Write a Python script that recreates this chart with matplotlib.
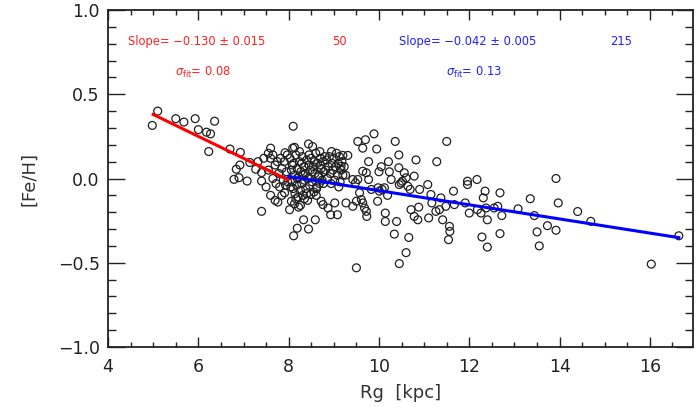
import matplotlib
matplotlib.use("Agg")
import matplotlib.pyplot as plt
import numpy as np
from matplotlib.ticker import MultipleLocator

# Inner sample (Rg < 8 kpc), 50 stars
rg_inner = [4.98, 5.10, 5.50, 5.68, 5.93, 6.36, 6.00, 6.18, 6.27, 6.23, 6.70, 6.93, 6.84, 6.92,
            6.79, 6.90, 7.08, 7.14, 7.32, 7.27, 7.40, 7.40, 7.40, 7.60, 7.76, 7.91, 7.92,
            7.55, 7.60, 7.65, 7.70, 7.72, 7.75, 7.78, 7.80, 7.82, 7.85, 7.88, 7.90, 7.93,
            7.95, 7.97, 7.98, 7.60, 7.70, 7.50, 7.65, 7.45, 7.55, 7.85]
feh_inner = [0.315, 0.40, 0.355, 0.335, 0.355, 0.34, 0.29, 0.275, 0.265, 0.16, 0.175, 0.155, 0.055, 0.08,
             -0.005, 0.005, -0.015, 0.095, 0.10, 0.055, 0.035, -0.015, -0.195, 0.18, -0.14, -0.085, 0.153,
             0.05, 0.12, 0.0, 0.08, -0.03, 0.10, 0.03, -0.05, 0.12, 0.06, -0.01, 0.10, -0.04,
             0.04, 0.14, -0.02, -0.10, -0.13, -0.05, 0.14, 0.12, 0.15, -0.10]

# Outer sample (Rg > 8 kpc), 215 stars
rg_outer = [8.02, 8.06, 8.22, 8.33, 8.59, 8.19, 8.44, 8.11, 8.72, 8.76, 8.87, 8.93, 9.08, 9.02, 8.49,
            8.10, 8.09, 8.13, 8.44, 8.53,
            9.89, 9.53, 9.70, 9.64, 9.95, 10.36, 11.50, 9.20, 9.31, 9.16, 9.77, 9.64, 9.72, 10.00, 10.05,
            10.21, 10.23, 10.44, 10.82, 11.28, 10.44, 10.56, 10.60, 10.78, 10.45, 10.49, 10.52, 10.64,
            10.69, 10.27, 9.42, 9.48, 9.53, 9.77, 9.83, 9.98, 10.01, 10.07, 10.12, 10.19, 9.57, 9.27,
            9.42, 9.50, 9.61, 9.64, 9.68, 9.72, 9.73, 9.97, 10.14, 10.14, 10.39, 10.34, 10.66, 10.60,
            10.45, 9.50, 10.71, 10.78, 10.86, 10.88, 11.08, 11.15, 11.17, 11.10, 11.26, 11.34, 11.41,
            11.48, 11.56, 11.57, 11.54, 11.67, 11.65, 11.37, 10.90,
            11.96, 11.96, 12.17, 12.35, 12.31, 12.68, 11.91, 12.00, 12.18, 12.26, 12.37, 12.55, 12.63,
            12.72, 12.40, 12.28, 12.40, 12.68,
            13.35, 13.08, 13.44, 13.50, 13.55, 13.73, 13.92, 13.92, 13.97, 14.40, 14.69, 16.64, 16.03,
            8.03, 8.06, 8.08, 8.10, 8.11, 8.13, 8.14, 8.16, 8.18, 8.19, 8.21, 8.22, 8.24, 8.26, 8.27,
            8.29, 8.30, 8.32, 8.34, 8.35, 8.37, 8.38, 8.40, 8.42, 8.43, 8.45, 8.46, 8.48, 8.08, 8.16,
            8.24, 8.32, 8.40, 8.05, 8.19, 8.29, 8.35, 8.45, 8.13, 8.26,
            8.50, 8.52, 8.54, 8.56, 8.58, 8.60, 8.62, 8.64, 8.66, 8.68, 8.70, 8.72, 8.74, 8.76, 8.78,
            8.62, 8.80, 8.66, 8.70, 8.53, 8.61, 8.69, 8.77, 8.82, 8.57,
            8.84, 8.86, 8.88, 8.90, 8.92, 8.94, 8.96, 8.98, 9.00, 9.02, 9.04, 9.06, 9.08, 9.10, 9.12,
            9.14, 9.16, 9.18, 9.20, 9.23, 9.26, 8.95, 9.11]
feh_outer = [-0.185, -0.135, -0.17, -0.245, -0.245, -0.295, -0.30, -0.34, -0.135, -0.155, -0.175, -0.215,
             -0.215, -0.145, -0.095,
             0.31, 0.18, 0.185, 0.205, 0.19,
             0.265, 0.22, 0.23, 0.18, 0.175, 0.22, 0.22, 0.137, 0.137, 0.073, 0.10, 0.043, 0.034, 0.04,
             0.07, 0.10, 0.04, 0.14, 0.11, 0.10, 0.064, 0.034, 0.004, 0.014, -0.036, -0.026, -0.016,
             -0.046, -0.065, -0.006, -0.006, -0.026, -0.006, -0.006, -0.065, -0.055, -0.075, -0.065,
             -0.055, -0.10, -0.085, -0.145, -0.165, -0.135, -0.125, -0.145, -0.175, -0.195, -0.225,
             -0.135, -0.205, -0.255, -0.255, -0.33, -0.35, -0.44, -0.505, -0.53, -0.185, -0.225, -0.245,
             -0.17, -0.036, -0.095, -0.145, -0.234, -0.195, -0.185, -0.245, -0.165, -0.284, -0.314,
             -0.363, -0.155, -0.075, -0.115, -0.065,
             -0.016, -0.036, -0.006, -0.075, -0.115, -0.085, -0.145, -0.205, -0.185, -0.205, -0.175,
             -0.175, -0.165, -0.22, -0.245, -0.347, -0.407, -0.327,
             -0.12, -0.18, -0.22, -0.317, -0.40, -0.28, -0.307, 0.0, -0.145, -0.196, -0.254, -0.34, -0.508,
             0.12, 0.05, -0.02, -0.06, 0.09, 0.02, -0.09, 0.14, -0.04, 0.06, -0.11, 0.01, 0.10, -0.07, 0.04,
             -0.03, 0.13, -0.10, 0.07, -0.01, 0.03, -0.06, 0.11, -0.13, 0.00, 0.08, -0.04, 0.05, 0.08, -0.12,
             0.16, 0.02, -0.09, -0.05, 0.00, 0.09, -0.12, 0.14, -0.15, -0.16,
             0.12, -0.02, 0.07, -0.08, 0.03, 0.15, -0.05, 0.09, 0.01, -0.03, 0.12, 0.06, -0.01, 0.10, 0.04,
             -0.06, 0.13, 0.02, 0.08, 0.04, -0.10, 0.16, -0.03, 0.05, 0.10,
             0.11, 0.00, 0.07, 0.13, 0.03, -0.03, 0.09, 0.05, 0.12, -0.01, 0.07, 0.15, 0.02, 0.09, 0.13,
             -0.02, 0.05, 0.10, 0.02, 0.07, 0.02, 0.16, -0.05]

# Linear fits: slope, value at start, x range
fit_inner = dict(slope=-0.130, x0=5.0, y0=0.38, x1=7.98)
fit_outer = dict(slope=-0.042, x0=8.0, y0=0.012, x1=16.64)

fig = plt.figure(figsize=(6.97, 4.08), dpi=100)
ax = fig.add_axes([0.155, 0.1495, 0.839, 0.826])

ax.scatter(rg_inner + rg_outer, feh_inner + feh_outer, s=32, facecolors='none',
           edgecolors='#202020', linewidths=0.9, zorder=2)

for fit, col in ((fit_inner, '#ff0000'), (fit_outer, '#0000ff')):
    xs = np.array([fit['x0'], fit['x1']])
    ys = fit['y0'] + fit['slope'] * (xs - fit['x0'])
    ax.plot(xs, ys, color=col, lw=2.2, zorder=3)

ax.set_xlim(4, 16.95)
ax.set_ylim(-1.0, 1.0)
ax.xaxis.set_major_locator(MultipleLocator(2))
ax.xaxis.set_minor_locator(MultipleLocator(0.5))
ax.yaxis.set_major_locator(MultipleLocator(0.5))
ax.yaxis.set_minor_locator(MultipleLocator(0.1))
ax.tick_params(axis='both', which='both', direction='in', top=True, right=True,
               labelsize=12.5, colors='#222222', width=1.0)
ax.tick_params(axis='x', which='major', length=7, pad=8)
ax.tick_params(axis='x', which='minor', length=3.5)
ax.tick_params(axis='y', which='major', length=12, pad=6)
ax.tick_params(axis='y', which='minor', length=6)
ax.xaxis.set_major_formatter(matplotlib.ticker.FuncFormatter(lambda v, p: f"{v:.0f}"))
ax.yaxis.set_major_formatter(matplotlib.ticker.FuncFormatter(
    lambda v, p: f"{v:.1f}".replace('-', '\u2212')))
for s in ax.spines.values():
    s.set_linewidth(1.3)
    s.set_color('#222222')

ax.set_xlabel('Rg  [kpc]', fontsize=13, color='#333333', labelpad=6)
ax.set_ylabel('[Fe/H]', fontsize=13, color='#333333', labelpad=14)

fs = 8.3
ax.text(4.44, 0.815, 'Slope= \u22120.130 \u00b1 0.015', color='#ff2020', fontsize=fs, va='center', ha='left')
ax.text(9.13, 0.815, '50', color='#ff2020', fontsize=fs, va='center', ha='center')
ax.text(10.45, 0.815, 'Slope= \u22120.042 \u00b1 0.005', color='#2020ff', fontsize=fs, va='center', ha='left')
ax.text(15.36, 0.815, '215', color='#2020ff', fontsize=fs, va='center', ha='center')
ax.text(5.48, 0.63, r'$\sigma_{\rm fit}$= 0.08', color='#ff2020', fontsize=fs, va='center', ha='left')
ax.text(11.49, 0.63, r'$\sigma_{\rm fit}$= 0.13', color='#2020ff', fontsize=fs, va='center', ha='left')

fig.savefig('out.png', dpi=100)
